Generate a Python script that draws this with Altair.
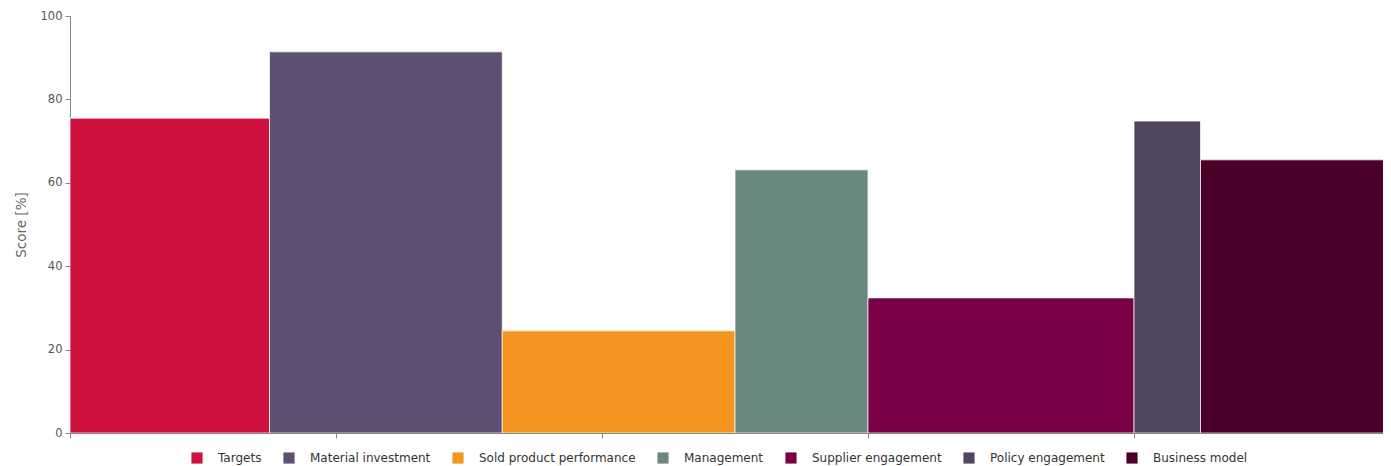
import altair as alt
import pandas as pd

categories = ["Targets", "Material investment", "Sold product performance", "Management",
              "Supplier engagement", "Policy engagement", "Business model"]
weights = [15, 17.5, 17.5, 10, 20, 5, 15]
scores = [75.5, 91.4, 24.5, 63.1, 32.4, 74.8, 65.5]
colors = ["#D0113F", "#5E5070", "#F5951F", "#6B8880", "#7B0045", "#514660", "#4A0029"]

df = pd.DataFrame({"category": categories, "weight": weights, "score": scores})
df["x1"] = df["weight"].cumsum()
df["x0"] = df["x1"] - df["weight"]
df["base"] = 0

font = "DejaVu Sans"

chart = alt.Chart(df).mark_rect(clip=True, stroke="white", strokeWidth=1, strokeOpacity=0.7).encode(
    x=alt.X("x0:Q", scale=alt.Scale(domain=[0, 98.72], nice=False, zero=True),
            axis=alt.Axis(values=[0, 20, 40, 60, 80], labels=False, title=None, grid=False,
                          domainColor="#888", tickColor="#888", tickSize=5)),
    x2="x1:Q",
    y=alt.Y("score:Q", scale=alt.Scale(domain=[0, 100], nice=False),
            axis=alt.Axis(values=[0, 20, 40, 60, 80, 100], title="Score [%]", grid=False,
                          domainColor="#888", tickColor="#888", tickSize=5,
                          labelColor="#555", labelFont=font, labelFontSize=11.5,
                          titleColor="#666", titleFont=font, titleFontSize=13.5,
                          titleFontWeight="normal", labelPadding=3, titlePadding=12)),
    y2="base:Q",
    color=alt.Color("category:N", sort=categories,
                    scale=alt.Scale(domain=categories, range=colors),
                    legend=alt.Legend(title=None, orient="none", direction="horizontal",
                                      legendX=121, legendY=436, symbolType="square",
                                      symbolSize=125, symbolStrokeWidth=0,
                                      labelFont=font, labelFontSize=12, labelColor="#333",
                                      labelOffset=15, columnPadding=21, padding=0,
                                      labelLimit=300)),
).properties(
    width=1313, height=417,
    padding={"left": 62, "top": 8, "right": 0, "bottom": 34},
    autosize=alt.AutoSizeParams(type="none"),
).configure_view(stroke=None)

chart.save("out.html", embed_options={"renderer": "svg", "actions": False})
